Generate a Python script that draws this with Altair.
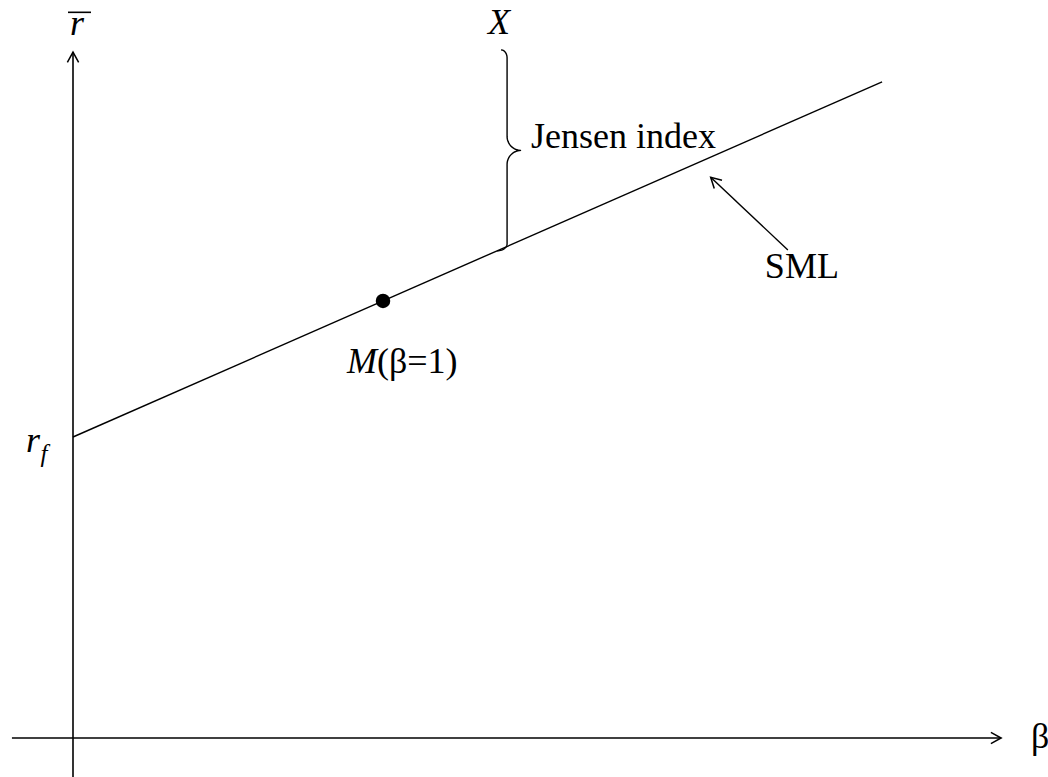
import altair as alt
import numpy as np
import pandas as pd

# --- values of the diagram (beta on x, expected return in % on y) ---
rf = 5.0                      # risk-free rate, SML intercept
beta_m = 1.0                  # market portfolio
r_m = 7.26
sml_beta = [0.0, 2.61]        # drawn extent of the security market line
sml_r = [5.0, 10.9]
beta_x = 1.368                # portfolio X
r_x = 11.43
r_sml_at_x = 8.092            # SML return at X's beta

# axis extents
x_axis_beta = [-0.197, 2.994]
y_axis_r = [-0.65, 11.395]

# --- layout: canvas and scale mapping ---
W, H = 1048, 777
PX_BETA = 310.0               # pixels per unit of beta
PX_R = 60.2                   # pixels per percentage point
X0, Y0 = 73.0, 738.0          # pixel position of the origin
X_DOMAIN = [-X0 / PX_BETA, (W - X0) / PX_BETA]
Y_DOMAIN = [(Y0 - H) / PX_R, Y0 / PX_R]

FONT = "Times New Roman, Liberation Serif, DejaVu Serif, serif"
FS = 36
LW = 1.6

xs = alt.Scale(domain=X_DOMAIN, nice=False, zero=False)
ys = alt.Scale(domain=Y_DOMAIN, nice=False, zero=False)
XE = dict(scale=xs, axis=None)
YE = dict(scale=ys, axis=None)


def to_px(b, r):
    return X0 + b * PX_BETA, Y0 - r * PX_R


def from_px(px, py):
    return (px - X0) / PX_BETA, (Y0 - py) / PX_R


def segments(df, width):
    return alt.Chart(df).mark_rule(color="black", strokeWidth=width).encode(
        x=alt.X("b:Q", **XE), x2="b2:Q",
        y=alt.Y("r:Q", **YE), y2="r2:Q")


# axes
axes = segments(pd.DataFrame({
    "b": [x_axis_beta[0], 0.0], "b2": [x_axis_beta[1], 0.0],
    "r": [0.0, y_axis_r[0]], "r2": [0.0, y_axis_r[1]],
}), LW)

# SML
sml = alt.Chart(pd.DataFrame({"b": sml_beta, "r": sml_r})).mark_line(
    color="black", strokeWidth=1.4).encode(
    x=alt.X("b:Q", **XE), y=alt.Y("r:Q", **YE))

# market portfolio dot
dot = alt.Chart(pd.DataFrame({"b": [beta_m], "r": [r_m]})).mark_circle(
    color="black", size=210, opacity=1).encode(
    x=alt.X("b:Q", **XE), y=alt.Y("r:Q", **YE))

# pointer from the SML label to the line
sml_tail = (2.306, 8.106)
sml_tip = (2.057, 9.314)
pointer = segments(pd.DataFrame({"b": [sml_tail[0]], "r": [sml_tail[1]],
                                 "b2": [sml_tip[0]], "r2": [sml_tip[1]]}), 1.4)

# open arrowheads (tip at the symbol origin)
tx, ty = to_px(*sml_tip)
ox, oy = to_px(*sml_tail)
sml_angle = (np.degrees(np.arctan2(tx - ox, -(ty - oy)))) % 360
heads = alt.Chart(pd.DataFrame({
    "b": [0.0, x_axis_beta[1], sml_tip[0]],
    "r": [y_axis_r[1], 0.0, sml_tip[1]],
    "ang": [0.0, 90.0, sml_angle],
})).mark_point(
    shape="M-0.55,1L0,0L0.55,1", filled=False, stroke="black",
    strokeWidth=1.5, size=420, opacity=1).encode(
    x=alt.X("b:Q", **XE), y=alt.Y("r:Q", **YE),
    angle=alt.Angle("ang:Q", scale=None))

# curly brace between the SML and X
bpx, bot_py = to_px(beta_x, r_sml_at_x)
_, top_py = to_px(beta_x, r_x)
top_px = bpx + 4
spine = bpx + 10
rm_ = 14.0
mid = (top_py + bot_py) / 2


def arc(cx, cy, rx, ry, a0, a1, n=14):
    t = np.radians(np.linspace(a0, a1, n))
    return list(cx + rx * np.cos(t)), list(cy + ry * np.sin(t))


pts_x, pts_y = [], []
for seg in [arc(top_px, top_py + 8, spine - top_px, 8, -90, 0),
            arc(spine + rm_, mid - rm_, rm_, rm_, 180, 90),
            arc(spine + rm_, mid + rm_, rm_, rm_, -90, -180),
            arc(bpx, bot_py - 7, spine - bpx, 7, 0, 90)]:
    pts_x += seg[0]
    pts_y += seg[1]
bb, br = from_px(np.array(pts_x), np.array(pts_y))
brace = alt.Chart(pd.DataFrame({"b": bb, "r": br, "o": np.arange(len(bb))})
                  ).mark_line(color="black", strokeWidth=1.4).encode(
    x=alt.X("b:Q", **XE), y=alt.Y("r:Q", **YE), order="o:Q")

# overline for r-bar
ol = alt.Chart(pd.DataFrame({"b": [-5 / PX_BETA], "b2": [18 / PX_BETA],
                             "r": [y_axis_r[1] + 39.7 / PX_R]})
               ).mark_rule(color="black", strokeWidth=1.6).encode(
    x=alt.X("b:Q", **XE), x2="b2:Q", y=alt.Y("r:Q", **YE))

tip_b, tip_r = from_px(spine + rm_, mid)


def label(text, b, r, dx, dy, align="left", italic=False, size=FS):
    kw = dict(text=text, font=FONT, fontSize=size, align=align,
              baseline="alphabetic", dx=dx, dy=dy, color="black")
    if italic:
        kw["fontStyle"] = "italic"
    return alt.Chart(pd.DataFrame({"b": [b], "r": [r]})).mark_text(**kw).encode(
        x=alt.X("b:Q", **XE), y=alt.Y("r:Q", **YE))


labels = [
    label("r", 0.0, y_axis_r[1], 4, -17, align="center", italic=True),
    label("r", 0.0, rf, -40, 15, align="center", italic=True),
    label("f", 0.0, rf, -29, 25, align="center", italic=True, size=25),
    label("X", beta_x, r_x, 2, -16, align="center", italic=True),
    label("Jensen index", tip_b, tip_r, 10, -2),
    label("SML", sml_tail[0], sml_tail[1], -23, 28),
    label("M", beta_m, r_m, -36, 72, italic=True),
    label("(β=1)", beta_m, r_m, -6, 72),
    label("β", x_axis_beta[1], 0.0, 39, 10, align="center"),
]

chart = alt.layer(axes, sml, pointer, brace, ol, heads, dot, *labels).properties(
    width=W, height=H, padding=0, autosize="none", background="white"
).configure_view(stroke=None)

chart.save("out.html", embed_options={"renderer": "svg", "actions": False})
